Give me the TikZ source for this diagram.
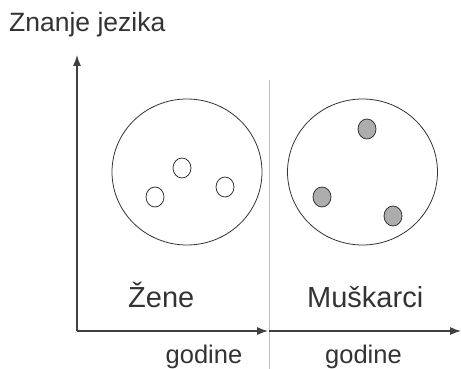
\documentclass[tikz,border=0pt]{standalone}
\usepackage{fontspec}
\setmainfont{Liberation Sans}
\usepackage{xcolor}
\usepackage{tikz}
\usetikzlibrary{calc, shapes, arrows, arrows.meta, positioning}

\begin{document}
\begin{tikzpicture}[x=1pt, y=-1pt,
			axis/.style={line width=1.2pt, draw=black!75, -{Latex[length=11pt, width=8pt]}},
			group/.style={draw=black!80, ellipse, line width=0.8pt, inner sep=0pt, minimum width=150pt, minimum height=146pt},
			zena/.style={draw=black!80, ellipse, line width=0.8pt, inner sep=0pt, minimum width=18pt, minimum height=20pt},
			muskarac/.style={zena, fill=black!32},
			label/.style={anchor=base, inner sep=0pt, font=\fontsize{25.5}{30}\selectfont, text=black!80}
			]
			\useasboundingbox (0,0) rectangle (461,369);
			\coordinate (o) at (77,331);
			\coordinate (ytop) at (77,55);
			\coordinate (xmid) at (268,331);
			\coordinate (xend) at (461,331);
			\coordinate (dtop) at (269,80);
			\coordinate (dbot) at (269,369);
			\node [label, anchor=base west, font=\fontsize{26.5}{31}\selectfont] (ylab) at (9,32) {Znanje jezika};
			\node [group](g1) at (187,172) {};
			\node [group](g2) at (362.5,172) {};
			\node [zena](z1) at (182,168) {};
			\node [zena](z2) at (155,197) {};
			\node [zena](z3) at (225,187) {};
			\node [muskarac](m1) at (367,129) {};
			\node [muskarac](m2) at (322,197) {};
			\node [muskarac](m3) at (393,216) {};
			\node [label, anchor=base west, font=\fontsize{29}{34}\selectfont](zene) at (128,307) {Žene};
			\node [label, anchor=base west, font=\fontsize{29}{34}\selectfont](musk) at (307,307) {Muškarci};
			\node [label](x1) at (204,363) {godine};
			\node [label](x2) at (363.5,363) {godine};
			\draw[black!25, line width=0.5pt] (dtop) -- (dbot);
			\draw[axis] (o) -- (ytop);
			\draw[axis] (o) -- (xmid);
			\draw[axis] (dbot |- o) -- (xend);
		\end{tikzpicture}
\end{document}
